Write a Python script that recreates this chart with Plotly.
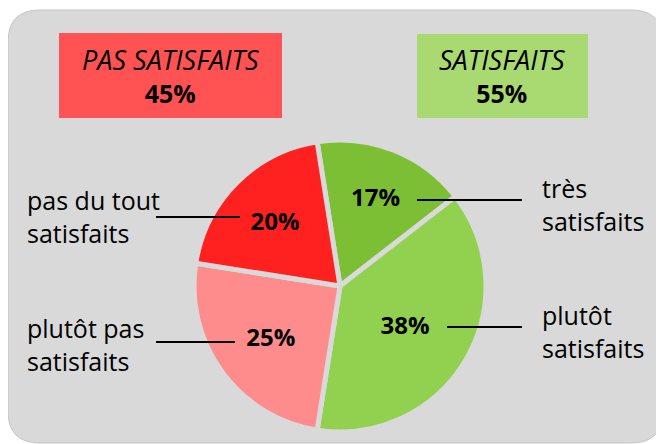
import plotly.graph_objects as go

# Data
categories = ["très satisfaits", "plutôt satisfaits", "plutôt pas satisfaits", "pas du tout satisfaits"]
values = [17, 38, 25, 20]
slice_colors = ["#7cbf35", "#92d050", "#ff8c8c", "#ff2020"]
group_titles = ["PAS SATISFAITS", "SATISFAITS"]
group_values = [45, 55]

# The page body has an 8px margin, so the figure is sized to fill the rest of the window.
OFF = 8
W, H = 664 - OFF, 444 - OFF
BG = "#d9d9d9"

def px(x):
    return (x - OFF) / W

def py(y):
    return 1 - (y - OFF) / H

fig = go.Figure()

fig.add_trace(go.Pie(
    labels=categories,
    values=values,
    sort=False,
    direction="clockwise",
    rotation=-9,
    marker=dict(colors=slice_colors, line=dict(color=BG, width=5)),
    texttemplate="<b>%{value}%</b>",
    textposition="inside",
    insidetextorientation="horizontal",
    textfont=dict(family="Open Sans", size=24, color="black"),
    hoverinfo="label+percent",
    showlegend=False,
    domain=dict(x=[px(194), px(486)], y=[py(432), py(140)]),
))

# rounded background panel
x0, x1, y0, y1, r = 8, 663, 10, 443, 32
path = (
    f"M {px(x0 + r)} {py(y0)} L {px(x1 - r)} {py(y0)} "
    f"Q {px(x1)} {py(y0)} {px(x1)} {py(y0 + r)} "
    f"L {px(x1)} {py(y1 - r)} Q {px(x1)} {py(y1)} {px(x1 - r)} {py(y1)} "
    f"L {px(x0 + r)} {py(y1)} Q {px(x0)} {py(y1)} {px(x0)} {py(y1 - r)} "
    f"L {px(x0)} {py(y0 + r)} Q {px(x0)} {py(y0)} {px(x0 + r)} {py(y0)} Z"
)
shapes = [dict(type="path", xref="paper", yref="paper", path=path,
               fillcolor=BG, line=dict(color="#c4c4c4", width=1), layer="below")]

# group boxes
boxes = [(59, 33, 282, 118, "#ff5252"), (417, 34, 588, 118, "#a9d971")]
for bx0, by0, bx1, by1, col in boxes:
    shapes.append(dict(type="rect", xref="paper", yref="paper",
                       x0=px(bx0), x1=px(bx1), y0=py(by1), y1=py(by0),
                       fillcolor=col, line=dict(width=0), layer="below"))

# leader lines
leaders = [(417, 522, 200), (447, 522, 327), (156, 235, 342), (156, 240, 217)]
for lx0, lx1, ly in leaders:
    shapes.append(dict(type="line", xref="paper", yref="paper",
                       x0=px(lx0), x1=px(lx1), y0=py(ly), y1=py(ly),
                       line=dict(color="black", width=2)))

annotations = []
font = "Open Sans"
for (cx, cy), title, gv in zip([(170, 76), (502, 76)], group_titles, group_values):
    annotations.append(dict(
        xref="paper", yref="paper", x=px(cx), y=py(cy),
        text=f"<i><span style='font-size:27px'>{title}</span></i><br><b>{gv}%</b>",
        showarrow=False,
        font=dict(family=font, size=25, color="black"), align="center",
        xanchor="center", yanchor="middle"))

label_pos = [(540, 204), (540, 331), (25, 344), (25, 217)]
label_text = ["très<br>satisfaits", "plutôt<br>satisfaits",
              "plutôt pas<br>satisfaits", "pas du tout<br>satisfaits"]
for (lx, ly), t in zip(label_pos, label_text):
    annotations.append(dict(
        xref="paper", yref="paper", x=px(lx), y=py(ly), text=t,
        showarrow=False, align="left", xanchor="left", yanchor="middle",
        font=dict(family=font, size=25, color="black")))

fig.update_layout(
    width=W, height=H,
    margin=dict(l=0, r=0, t=0, b=0),
    paper_bgcolor="white",
    plot_bgcolor="white",
    shapes=shapes,
    annotations=annotations,
)

fig.write_html("out.html")
